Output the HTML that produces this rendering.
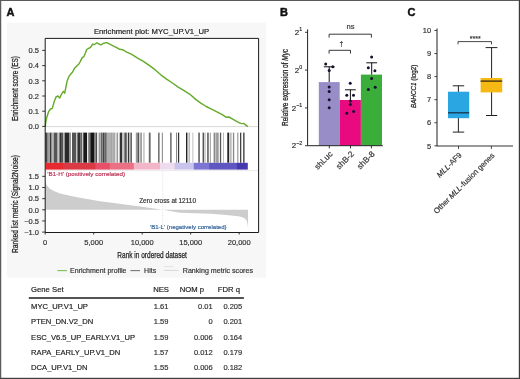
<!DOCTYPE html>
<html><head><meta charset="utf-8"><style>
html,body{margin:0;padding:0;background:#fff;}
body{width:520px;height:379px;overflow:hidden;position:relative;}
svg{display:block;font-family:"Liberation Sans", sans-serif;will-change:transform;}
.hv{stroke:#222;stroke-width:0.25px;}
text{stroke-linejoin:round;}
</style></head><body>
<svg width="520" height="379" viewBox="0 0 520 379">
<defs>
<linearGradient id="cb" x1="45.5" x2="248" y1="0" y2="0" gradientUnits="userSpaceOnUse">

<stop offset="0.0000" stop-color="#e62a30"/>
<stop offset="0.0849" stop-color="#e62a30"/>
<stop offset="0.0899" stop-color="#da3a44"/>
<stop offset="0.2444" stop-color="#da3a44"/>
<stop offset="0.2494" stop-color="#e8506a"/>
<stop offset="0.3151" stop-color="#e8506a"/>
<stop offset="0.3200" stop-color="#ec7085"/>
<stop offset="0.4336" stop-color="#ec7085"/>
<stop offset="0.4385" stop-color="#f3b6c9"/>
<stop offset="0.5630" stop-color="#f3b6c9"/>
<stop offset="0.5679" stop-color="#eedcee"/>
<stop offset="0.6351" stop-color="#eedcee"/>
<stop offset="0.6400" stop-color="#c9c4ec"/>
<stop offset="0.7299" stop-color="#c9c4ec"/>
<stop offset="0.7348" stop-color="#7d75d3"/>
<stop offset="0.8059" stop-color="#7d75d3"/>
<stop offset="0.8109" stop-color="#5f56c2"/>
<stop offset="0.9427" stop-color="#5f56c2"/>
<stop offset="0.9477" stop-color="#4639b0"/>
<stop offset="1.0000" stop-color="#4639b0"/>
</linearGradient></defs>
<rect x="0" y="0" width="520" height="379" fill="#fff"/>
<rect x="7" y="22.6" width="259" height="255" fill="#f7f7f7"/>
<text x="6.4" y="16.4" font-size="11" font-weight="bold" fill="#111" stroke="#111" stroke-width="0.45">A</text>
<text x="280" y="16.4" font-size="11" font-weight="bold" fill="#111" stroke="#111" stroke-width="0.45">B</text>
<text x="407.6" y="16.4" font-size="11" font-weight="bold" fill="#111" stroke="#111" stroke-width="0.45">C</text>
<text x="151.5" y="33.8" font-size="7.7" text-anchor="middle" fill="#222" stroke="#222" stroke-width="0.18">Enrichment plot: MYC_UP.V1_UP</text>
<rect x="45.2" y="38.4" width="213.40000000000003" height="194.1" fill="#fff"/>
<line x1="45.2" x2="258.6" y1="126.6" y2="126.6" stroke="#d8d8d8" stroke-width="1"/>
<path d="M45.5,126.4 L45.5,123.7 L46.8,117.3 L48.6,111.7 L50.5,109.0 L52.3,108.4 L54.2,101.6 L56.0,97.0 L57.9,96.0 L59.7,97.9 L61.5,94.2 L63.4,91.4 L64.7,93.2 L65.8,87.7 L67.1,81.2 L68.9,76.6 L70.8,73.9 L72.6,72.0 L74.5,68.3 L76.3,66.5 L79.1,63.7 L80.0,62.0 L81.9,58.1 L83.8,56.7 L85.3,53.3 L86.7,49.5 L88.2,48.5 L89.6,48.0 L91.1,46.6 L92.5,44.2 L94.4,44.5 L96.8,42.9 L99.2,44.2 L101.2,44.8 L103.1,43.5 L105.0,42.9 L106.9,42.7 L108.8,43.7 L111.7,45.1 L114.6,46.6 L117.5,48.0 L119.4,49.3 L121.3,49.5 L123.3,50.0 L126.2,51.9 L129.0,53.1 L131.8,54.4 L137.6,58.1 L143.4,61.3 L149.2,65.3 L155.0,69.7 L160.8,74.8 L166.6,79.1 L172.4,83.0 L178.2,87.1 L184.1,90.7 L189.9,94.3 L195.4,99.1 L200.8,103.2 L206.2,106.5 L211.5,109.2 L216.9,111.9 L222.3,114.6 L226.3,117.3 L229.0,117.0 L233.1,119.3 L237.1,121.6 L240.5,123.4 L242.5,123.6 L243.8,123.4 L245.2,124.7 L247.9,126.7" fill="none" stroke="#66ab2c" stroke-width="1.45" stroke-linejoin="round"/>
<rect x="45.30" y="132.6" width="1.90" height="30.2" fill="rgb(68,68,68)"/>
<rect x="47.20" y="132.6" width="1.60" height="30.2" fill="rgb(119,119,119)"/>
<rect x="48.80" y="132.6" width="0.80" height="30.2" fill="rgb(204,204,204)"/>
<rect x="49.60" y="132.6" width="1.90" height="30.2" fill="rgb(58,58,58)"/>
<rect x="51.50" y="132.6" width="1.10" height="30.2" fill="rgb(136,136,136)"/>
<rect x="53.50" y="132.6" width="4.00" height="30.2" fill="rgb(85,85,85)"/>
<rect x="58.50" y="132.6" width="1.10" height="30.2" fill="rgb(136,136,136)"/>
<rect x="59.60" y="132.6" width="2.20" height="30.2" fill="rgb(51,51,51)"/>
<rect x="61.80" y="132.6" width="1.60" height="30.2" fill="rgb(85,85,85)"/>
<rect x="64.50" y="132.6" width="4.80" height="30.2" fill="rgb(42,42,42)"/>
<rect x="69.30" y="132.6" width="1.60" height="30.2" fill="rgb(136,136,136)"/>
<rect x="72.00" y="132.6" width="4.30" height="30.2" fill="rgb(85,85,85)"/>
<rect x="76.30" y="132.6" width="1.10" height="30.2" fill="rgb(200,200,200)"/>
<rect x="77.40" y="132.6" width="3.20" height="30.2" fill="rgb(51,51,51)"/>
<rect x="80.60" y="132.6" width="1.60" height="30.2" fill="rgb(102,102,102)"/>
<rect x="82.20" y="132.6" width="1.10" height="30.2" fill="rgb(200,200,200)"/>
<rect x="83.30" y="132.6" width="3.80" height="30.2" fill="rgb(26,26,26)"/>
<rect x="88.20" y="132.6" width="2.10" height="30.2" fill="rgb(119,119,119)"/>
<rect x="90.30" y="132.6" width="4.30" height="30.2" fill="rgb(21,21,21)"/>
<rect x="94.60" y="132.6" width="1.60" height="30.2" fill="rgb(136,136,136)"/>
<rect x="96.20" y="132.6" width="0.90" height="30.2" fill="rgb(40,40,40)"/>
<rect x="98.70" y="132.6" width="1.10" height="30.2" fill="rgb(119,119,119)"/>
<rect x="99.80" y="132.6" width="1.00" height="30.2" fill="rgb(187,187,187)"/>
<rect x="100.80" y="132.6" width="1.10" height="30.2" fill="rgb(85,85,85)"/>
<rect x="101.90" y="132.6" width="1.10" height="30.2" fill="rgb(136,136,136)"/>
<rect x="103.00" y="132.6" width="1.60" height="30.2" fill="rgb(68,68,68)"/>
<rect x="104.60" y="132.6" width="2.20" height="30.2" fill="rgb(102,102,102)"/>
<rect x="106.80" y="132.6" width="4.30" height="30.2" fill="rgb(176,176,176)"/>
<rect x="111.10" y="132.6" width="1.10" height="30.2" fill="rgb(153,153,153)"/>
<rect x="112.20" y="132.6" width="3.20" height="30.2" fill="rgb(170,170,170)"/>
<rect x="116.50" y="132.6" width="1.60" height="30.2" fill="rgb(153,153,153)"/>
<rect x="119.70" y="132.6" width="2.70" height="30.2" fill="rgb(51,51,51)"/>
<rect x="122.40" y="132.6" width="1.60" height="30.2" fill="rgb(204,204,204)"/>
<rect x="124.00" y="132.6" width="1.10" height="30.2" fill="rgb(136,136,136)"/>
<rect x="125.10" y="132.6" width="1.60" height="30.2" fill="rgb(68,68,68)"/>
<rect x="127.80" y="132.6" width="1.60" height="30.2" fill="rgb(51,51,51)"/>
<rect x="129.40" y="132.6" width="1.10" height="30.2" fill="rgb(200,200,200)"/>
<rect x="130.50" y="132.6" width="1.30" height="30.2" fill="rgb(68,68,68)"/>
<rect x="135.80" y="132.6" width="1.70" height="30.2" fill="rgb(153,153,153)"/>
<rect x="137.50" y="132.6" width="1.60" height="30.2" fill="rgb(85,85,85)"/>
<rect x="139.10" y="132.6" width="1.30" height="30.2" fill="rgb(204,204,204)"/>
<rect x="140.40" y="132.6" width="1.40" height="30.2" fill="rgb(136,136,136)"/>
<rect x="143.40" y="132.6" width="1.10" height="30.2" fill="rgb(170,170,170)"/>
<rect x="148.80" y="132.6" width="1.80" height="30.2" fill="rgb(102,102,102)"/>
<rect x="158.20" y="132.6" width="1.30" height="30.2" fill="rgb(85,85,85)"/>
<rect x="161.80" y="132.6" width="1.20" height="30.2" fill="rgb(153,153,153)"/>
<rect x="170.30" y="132.6" width="1.20" height="30.2" fill="rgb(68,68,68)"/>
<rect x="176.00" y="132.6" width="1.10" height="30.2" fill="rgb(136,136,136)"/>
<rect x="178.00" y="132.6" width="1.20" height="30.2" fill="rgb(51,51,51)"/>
<rect x="186.00" y="132.6" width="1.40" height="30.2" fill="rgb(34,34,34)"/>
<rect x="188.60" y="132.6" width="1.10" height="30.2" fill="rgb(153,153,153)"/>
<rect x="192.40" y="132.6" width="0.90" height="30.2" fill="rgb(187,187,187)"/>
<rect x="198.30" y="132.6" width="1.50" height="30.2" fill="rgb(85,85,85)"/>
<rect x="202.60" y="132.6" width="1.30" height="30.2" fill="rgb(68,68,68)"/>
<rect x="204.60" y="132.6" width="0.80" height="30.2" fill="rgb(140,140,140)"/>
<rect x="207.20" y="132.6" width="1.50" height="30.2" fill="rgb(85,85,85)"/>
<rect x="209.80" y="132.6" width="1.00" height="30.2" fill="rgb(153,153,153)"/>
<rect x="213.60" y="132.6" width="1.90" height="30.2" fill="rgb(136,136,136)"/>
<rect x="216.10" y="132.6" width="2.60" height="30.2" fill="rgb(153,153,153)"/>
<rect x="219.90" y="132.6" width="1.30" height="30.2" fill="rgb(85,85,85)"/>
<rect x="223.00" y="132.6" width="1.00" height="30.2" fill="rgb(187,187,187)"/>
<rect x="227.30" y="132.6" width="1.90" height="30.2" fill="rgb(34,34,34)"/>
<rect x="230.40" y="132.6" width="1.00" height="30.2" fill="rgb(140,140,140)"/>
<rect x="232.90" y="132.6" width="1.30" height="30.2" fill="rgb(136,136,136)"/>
<rect x="237.20" y="132.6" width="1.20" height="30.2" fill="rgb(153,153,153)"/>
<rect x="240.00" y="132.6" width="1.30" height="30.2" fill="rgb(68,68,68)"/>
<rect x="243.20" y="132.6" width="1.30" height="30.2" fill="rgb(51,51,51)"/>
<rect x="45.5" y="162.8" width="202.3" height="6.8" fill="url(#cb)"/>
<line x1="45.2" x2="258.6" y1="170.6" y2="170.6" stroke="#e4e4e4" stroke-width="0.8"/>
<path d="M45.3,209.8 L45.3,180.8 L45.9,183.0 L47.0,185.5 L48.5,187.3 L50.0,188.7 L52.5,190.3 L55.0,191.6 L60.0,193.4 L70.0,195.8 L80.0,197.8 L90.0,199.6 L100.0,201.2 L110.0,202.5 L125.0,204.4 L140.0,206.5 L162.7,209.8 L180.0,212.7 L195.4,213.2 L210.8,213.8 L226.2,214.9 L238.5,216.2 L243.1,217.6 L245.5,219.0 L247.0,221.5 L247.7,225.0 L248.1,229.0 L248,209.8 Z" fill="#cdcdcd"/>
<line x1="162.7" x2="162.7" y1="171" y2="232" stroke="#d4d4d4" stroke-width="0.7" stroke-dasharray="1,1.2"/>
<text x="47.3" y="176.1" font-size="6.25" fill="#bd3456" stroke="#bd3456" stroke-width="0.18">'B1-H' (positively correlated)</text>
<text x="139.2" y="203.4" font-size="6.45" fill="#333" stroke="#333" stroke-width="0.18">Zero cross at 12110</text>
<text x="226.6" y="229.3" font-size="6.05" text-anchor="end" fill="#33659a" stroke="#33659a" stroke-width="0.18">'B1-L' (negatively correlated)</text>
<path d="M45.2,38.4 H258.6 V232.5 H45.2 Z" fill="none" stroke="#1a1a1a" stroke-width="1"/>
<line x1="42.2" x2="45.2" y1="126.40" y2="126.40" stroke="#222" stroke-width="0.9"/>
<text x="39.0" y="129.10" font-size="7.5" text-anchor="end" fill="#333" stroke="#333" stroke-width="0.18">0.0</text>
<line x1="42.2" x2="45.2" y1="111.20" y2="111.20" stroke="#222" stroke-width="0.9"/>
<text x="39.0" y="113.90" font-size="7.5" text-anchor="end" fill="#333" stroke="#333" stroke-width="0.18">0.1</text>
<line x1="42.2" x2="45.2" y1="96.00" y2="96.00" stroke="#222" stroke-width="0.9"/>
<text x="39.0" y="98.70" font-size="7.5" text-anchor="end" fill="#333" stroke="#333" stroke-width="0.18">0.2</text>
<line x1="42.2" x2="45.2" y1="80.80" y2="80.80" stroke="#222" stroke-width="0.9"/>
<text x="39.0" y="83.50" font-size="7.5" text-anchor="end" fill="#333" stroke="#333" stroke-width="0.18">0.3</text>
<line x1="42.2" x2="45.2" y1="65.60" y2="65.60" stroke="#222" stroke-width="0.9"/>
<text x="39.0" y="68.30" font-size="7.5" text-anchor="end" fill="#333" stroke="#333" stroke-width="0.18">0.4</text>
<line x1="42.2" x2="45.2" y1="50.40" y2="50.40" stroke="#222" stroke-width="0.9"/>
<text x="39.0" y="53.10" font-size="7.5" text-anchor="end" fill="#333" stroke="#333" stroke-width="0.18">0.5</text>
<line x1="42.2" x2="45.2" y1="176.35" y2="176.35" stroke="#222" stroke-width="0.9"/>
<text x="39.0" y="179.05" font-size="7.5" text-anchor="end" fill="#333" stroke="#333" stroke-width="0.18">1.5</text>
<line x1="42.2" x2="45.2" y1="187.50" y2="187.50" stroke="#222" stroke-width="0.9"/>
<text x="39.0" y="190.20" font-size="7.5" text-anchor="end" fill="#333" stroke="#333" stroke-width="0.18">1.0</text>
<line x1="42.2" x2="45.2" y1="198.65" y2="198.65" stroke="#222" stroke-width="0.9"/>
<text x="39.0" y="201.35" font-size="7.5" text-anchor="end" fill="#333" stroke="#333" stroke-width="0.18">0.5</text>
<line x1="42.2" x2="45.2" y1="209.80" y2="209.80" stroke="#222" stroke-width="0.9"/>
<text x="39.0" y="212.50" font-size="7.5" text-anchor="end" fill="#333" stroke="#333" stroke-width="0.18">0.0</text>
<line x1="42.2" x2="45.2" y1="220.95" y2="220.95" stroke="#222" stroke-width="0.9"/>
<text x="39.0" y="223.65" font-size="7.5" text-anchor="end" fill="#333" stroke="#333" stroke-width="0.18">−0.5</text>
<line x1="42.2" x2="45.2" y1="232.10" y2="232.10" stroke="#222" stroke-width="0.9"/>
<text x="39.0" y="234.80" font-size="7.5" text-anchor="end" fill="#333" stroke="#333" stroke-width="0.18">−1.0</text>
<line x1="45.20" x2="45.20" y1="232.5" y2="234.5" stroke="#222" stroke-width="0.9"/>
<text x="45.20" y="245.2" font-size="7.5" text-anchor="middle" fill="#333" stroke="#333" stroke-width="0.18">0</text>
<line x1="93.70" x2="93.70" y1="232.5" y2="234.5" stroke="#222" stroke-width="0.9"/>
<text x="93.70" y="245.2" font-size="7.5" text-anchor="middle" fill="#333" stroke="#333" stroke-width="0.18">5,000</text>
<line x1="142.20" x2="142.20" y1="232.5" y2="234.5" stroke="#222" stroke-width="0.9"/>
<text x="142.20" y="245.2" font-size="7.5" text-anchor="middle" fill="#333" stroke="#333" stroke-width="0.18">10,000</text>
<line x1="190.70" x2="190.70" y1="232.5" y2="234.5" stroke="#222" stroke-width="0.9"/>
<text x="190.70" y="245.2" font-size="7.5" text-anchor="middle" fill="#333" stroke="#333" stroke-width="0.18">15,000</text>
<line x1="239.20" x2="239.20" y1="232.5" y2="234.5" stroke="#222" stroke-width="0.9"/>
<text x="239.20" y="245.2" font-size="7.5" text-anchor="middle" fill="#333" stroke="#333" stroke-width="0.18">20,000</text>
<text x="152.1" y="257.7" font-size="8.9" text-anchor="middle" fill="#222" class="hv" textLength="69.6" lengthAdjust="spacingAndGlyphs">Rank in ordered dataset</text>
<text transform="translate(17.8,88.5) rotate(-90)" x="0" y="0" font-size="8.9" text-anchor="middle" fill="#222" class="hv" textLength="65" lengthAdjust="spacingAndGlyphs">Enrichment score (ES)</text>
<text transform="translate(17.8,204) rotate(-90)" x="0" y="0" font-size="8.9" text-anchor="middle" fill="#222" class="hv" textLength="98" lengthAdjust="spacingAndGlyphs">Ranked list metric (Signal2Noise)</text>
<line x1="57.4" x2="66.9" y1="270.6" y2="270.6" stroke="#7cc04a" stroke-width="1.1"/>
<text x="70.1" y="273.2" font-size="7.0" fill="#333" stroke="#333" stroke-width="0.18">Enrichment profile</text>
<line x1="130.4" x2="140" y1="270.6" y2="270.6" stroke="#777" stroke-width="1.1"/>
<text x="144.1" y="273.2" font-size="7.0" fill="#333" stroke="#333" stroke-width="0.18">Hits</text>
<line x1="163.8" x2="173.3" y1="266.6" y2="266.6" stroke="#ddd" stroke-width="0.8"/>
<line x1="163.8" x2="178.6" y1="270.4" y2="270.4" stroke="#d0d0d0" stroke-width="0.8"/>
<text x="182.8" y="273.2" font-size="7.1" fill="#333" stroke="#333" stroke-width="0.18">Ranking metric scores</text>
<text x="31.1" y="292.1" font-size="7.7" fill="#222" stroke="#222" stroke-width="0.18">Gene Set</text>
<text x="153.2" y="292.1" font-size="7.7" fill="#222" stroke="#222" stroke-width="0.18">NES</text>
<text x="179.7" y="292.1" font-size="7.7" fill="#222" stroke="#222" stroke-width="0.18">NOM p</text>
<text x="217.8" y="292.1" font-size="7.7" fill="#222" stroke="#222" stroke-width="0.18">FDR q</text>
<line x1="28.8" x2="243.9" y1="298" y2="298" stroke="#1a1a1a" stroke-width="1.3"/>
<text x="31.1" y="308.80" font-size="7.6" fill="#222" stroke="#222" stroke-width="0.18">MYC_UP.V1_UP</text>
<text x="153.8" y="308.80" font-size="7.5" fill="#333" stroke="#333" stroke-width="0.18">1.61</text>
<text x="212.7" y="308.80" font-size="7.5" text-anchor="end" fill="#333" stroke="#333" stroke-width="0.18">0.01</text>
<text x="242.2" y="308.80" font-size="7.5" text-anchor="end" fill="#333" stroke="#333" stroke-width="0.18">0.205</text>
<text x="31.1" y="324.17" font-size="7.6" fill="#222" stroke="#222" stroke-width="0.18">PTEN_DN.V2_DN</text>
<text x="153.8" y="324.17" font-size="7.5" fill="#333" stroke="#333" stroke-width="0.18">1.59</text>
<text x="212.7" y="324.17" font-size="7.5" text-anchor="end" fill="#333" stroke="#333" stroke-width="0.18">0</text>
<text x="242.2" y="324.17" font-size="7.5" text-anchor="end" fill="#333" stroke="#333" stroke-width="0.18">0.201</text>
<text x="31.1" y="339.54" font-size="7.6" fill="#222" stroke="#222" stroke-width="0.18">ESC_V6.5_UP_EARLY.V1_UP</text>
<text x="153.8" y="339.54" font-size="7.5" fill="#333" stroke="#333" stroke-width="0.18">1.59</text>
<text x="212.7" y="339.54" font-size="7.5" text-anchor="end" fill="#333" stroke="#333" stroke-width="0.18">0.006</text>
<text x="242.2" y="339.54" font-size="7.5" text-anchor="end" fill="#333" stroke="#333" stroke-width="0.18">0.164</text>
<text x="31.1" y="354.91" font-size="7.6" fill="#222" stroke="#222" stroke-width="0.18">RAPA_EARLY_UP.V1_DN</text>
<text x="153.8" y="354.91" font-size="7.5" fill="#333" stroke="#333" stroke-width="0.18">1.57</text>
<text x="212.7" y="354.91" font-size="7.5" text-anchor="end" fill="#333" stroke="#333" stroke-width="0.18">0.012</text>
<text x="242.2" y="354.91" font-size="7.5" text-anchor="end" fill="#333" stroke="#333" stroke-width="0.18">0.179</text>
<text x="31.1" y="370.28" font-size="7.6" fill="#222" stroke="#222" stroke-width="0.18">DCA_UP.V1_DN</text>
<text x="153.8" y="370.28" font-size="7.5" fill="#333" stroke="#333" stroke-width="0.18">1.55</text>
<text x="212.7" y="370.28" font-size="7.5" text-anchor="end" fill="#333" stroke="#333" stroke-width="0.18">0.006</text>
<text x="242.2" y="370.28" font-size="7.5" text-anchor="end" fill="#333" stroke="#333" stroke-width="0.18">0.182</text>
<rect x="318.8" y="82.1" width="20.9" height="63.6" fill="#998dc8"/>
<rect x="339.7" y="100.0" width="21.2" height="45.7" fill="#ea0a80"/>
<rect x="360.9" y="74.6" width="21.1" height="71.1" fill="#3aad3a"/>
<line x1="329.2" x2="329.2" y1="66.8" y2="82.1" stroke="#111" stroke-width="1"/>
<line x1="323.8" x2="334.59999999999997" y1="66.8" y2="66.8" stroke="#111" stroke-width="1"/>
<line x1="350.4" x2="350.4" y1="89.8" y2="100.0" stroke="#111" stroke-width="1"/>
<line x1="345.0" x2="355.79999999999995" y1="89.8" y2="89.8" stroke="#111" stroke-width="1"/>
<line x1="371.7" x2="371.7" y1="62.8" y2="74.6" stroke="#111" stroke-width="1"/>
<line x1="366.3" x2="377.09999999999997" y1="62.8" y2="62.8" stroke="#111" stroke-width="1"/>
<circle cx="325.7" cy="64" r="1.5" fill="#15112e"/>
<circle cx="332.8" cy="66.8" r="1.5" fill="#15112e"/>
<circle cx="329.2" cy="70.5" r="1.5" fill="#15112e"/>
<circle cx="329.2" cy="86.9" r="1.5" fill="#15112e"/>
<circle cx="329.2" cy="91.4" r="1.5" fill="#15112e"/>
<circle cx="329.2" cy="99.7" r="1.5" fill="#15112e"/>
<circle cx="329.2" cy="107.8" r="1.5" fill="#15112e"/>
<circle cx="350.2" cy="83.3" r="1.5" fill="#15112e"/>
<circle cx="346.8" cy="95.3" r="1.5" fill="#15112e"/>
<circle cx="353.5" cy="95.3" r="1.5" fill="#15112e"/>
<circle cx="350.3" cy="101.1" r="1.5" fill="#15112e"/>
<circle cx="350.3" cy="104.4" r="1.5" fill="#15112e"/>
<circle cx="346.8" cy="113.2" r="1.5" fill="#15112e"/>
<circle cx="353.7" cy="111.4" r="1.5" fill="#15112e"/>
<circle cx="371.6" cy="57" r="1.5" fill="#15112e"/>
<circle cx="368.3" cy="67.8" r="1.5" fill="#15112e"/>
<circle cx="374.9" cy="70.7" r="1.5" fill="#15112e"/>
<circle cx="371.6" cy="78.6" r="1.5" fill="#15112e"/>
<circle cx="375.2" cy="87.3" r="1.5" fill="#15112e"/>
<circle cx="368.3" cy="89.6" r="1.5" fill="#15112e"/>
<path d="M307.6,29.4 V145.7 H382.8" fill="none" stroke="#222" stroke-width="1"/>
<line x1="305" x2="307.6" y1="32.30" y2="32.30" stroke="#222" stroke-width="0.9"/>
<text x="302.2" y="34.90" font-size="7.9" text-anchor="end" fill="#2a2a2a" stroke="#2a2a2a" stroke-width="0.18">2<tspan font-size="5.3" dy="-3.5">1</tspan></text>
<line x1="305" x2="307.6" y1="70.10" y2="70.10" stroke="#222" stroke-width="0.9"/>
<text x="302.2" y="72.70" font-size="7.9" text-anchor="end" fill="#2a2a2a" stroke="#2a2a2a" stroke-width="0.18">2<tspan font-size="5.3" dy="-3.5">0</tspan></text>
<line x1="305" x2="307.6" y1="107.90" y2="107.90" stroke="#222" stroke-width="0.9"/>
<text x="302.2" y="110.50" font-size="7.9" text-anchor="end" fill="#2a2a2a" stroke="#2a2a2a" stroke-width="0.18">2<tspan font-size="5.3" dy="-3.5">−1</tspan></text>
<line x1="305" x2="307.6" y1="145.70" y2="145.70" stroke="#222" stroke-width="0.9"/>
<text x="302.2" y="148.30" font-size="7.9" text-anchor="end" fill="#2a2a2a" stroke="#2a2a2a" stroke-width="0.18">2<tspan font-size="5.3" dy="-3.5">−2</tspan></text>
<line x1="329.3" x2="329.3" y1="145.7" y2="148.4" stroke="#222" stroke-width="0.9"/>
<line x1="350.5" x2="350.5" y1="145.7" y2="148.4" stroke="#222" stroke-width="0.9"/>
<line x1="371.4" x2="371.4" y1="145.7" y2="148.4" stroke="#222" stroke-width="0.9"/>
<text transform="translate(333.2,154.6) rotate(-45)" x="0" y="0" font-size="8.2" text-anchor="end" fill="#333" stroke="#333" stroke-width="0.18">shLuc</text>
<text transform="translate(354.4,154.6) rotate(-45)" x="0" y="0" font-size="8.2" text-anchor="end" fill="#333" stroke="#333" stroke-width="0.18">shB-2</text>
<text transform="translate(375.3,154.6) rotate(-45)" x="0" y="0" font-size="8.2" text-anchor="end" fill="#333" stroke="#333" stroke-width="0.18">shB-8</text>
<path d="M329.1,37.6 V34.2 H371.4 V37.6" fill="none" stroke="#222" stroke-width="0.9"/>
<path d="M329.1,53.6 V50.3 H350.5 V53.6" fill="none" stroke="#222" stroke-width="0.9"/>
<text x="350.6" y="29.4" font-size="7.6" text-anchor="middle" fill="#333" stroke="#333" stroke-width="0.18">ns</text>
<text x="341.4" y="46.4" font-size="7" text-anchor="middle" fill="#333" stroke="#333" stroke-width="0.18">†</text>
<text transform="translate(287.9,87.4) rotate(-90)" x="0" y="0" font-size="8.2" text-anchor="middle" fill="#222" class="hv" textLength="77" lengthAdjust="spacingAndGlyphs">Relative expression of <tspan font-style="italic">Myc</tspan></text>
<line x1="458.4" x2="458.4" y1="85.8" y2="132.1" stroke="#222" stroke-width="1"/>
<line x1="452.8" x2="464.2" y1="85.8" y2="85.8" stroke="#222" stroke-width="1"/>
<line x1="452.8" x2="464.2" y1="132.1" y2="132.1" stroke="#222" stroke-width="1"/>
<rect x="448" y="91.7" width="21.2" height="26.5" fill="#2aa6e2"/>
<line x1="448" x2="469.2" y1="112.8" y2="112.8" stroke="#173650" stroke-width="1.3"/>
<line x1="491.6" x2="491.6" y1="47.6" y2="115.5" stroke="#222" stroke-width="1"/>
<line x1="485.6" x2="497.4" y1="47.6" y2="47.6" stroke="#222" stroke-width="1"/>
<line x1="486" x2="497.2" y1="115.5" y2="115.5" stroke="#222" stroke-width="1"/>
<rect x="480.6" y="78.0" width="21.6" height="14.4" fill="#f6b813"/>
<line x1="480.6" x2="502.2" y1="81.1" y2="81.1" stroke="#3a2a10" stroke-width="1.3"/>
<path d="M437,28.5 V146 H513" fill="none" stroke="#333" stroke-width="1.1"/>
<line x1="434.4" x2="437" y1="145.80" y2="145.80" stroke="#333" stroke-width="0.9"/>
<text x="431.2" y="148.50" font-size="7.5" text-anchor="end" fill="#333" stroke="#333" stroke-width="0.18">5</text>
<line x1="434.4" x2="437" y1="122.74" y2="122.74" stroke="#333" stroke-width="0.9"/>
<text x="431.2" y="125.44" font-size="7.5" text-anchor="end" fill="#333" stroke="#333" stroke-width="0.18">6</text>
<line x1="434.4" x2="437" y1="99.68" y2="99.68" stroke="#333" stroke-width="0.9"/>
<text x="431.2" y="102.38" font-size="7.5" text-anchor="end" fill="#333" stroke="#333" stroke-width="0.18">7</text>
<line x1="434.4" x2="437" y1="76.62" y2="76.62" stroke="#333" stroke-width="0.9"/>
<text x="431.2" y="79.32" font-size="7.5" text-anchor="end" fill="#333" stroke="#333" stroke-width="0.18">8</text>
<line x1="434.4" x2="437" y1="53.56" y2="53.56" stroke="#333" stroke-width="0.9"/>
<text x="431.2" y="56.26" font-size="7.5" text-anchor="end" fill="#333" stroke="#333" stroke-width="0.18">9</text>
<line x1="434.4" x2="437" y1="30.50" y2="30.50" stroke="#333" stroke-width="0.9"/>
<text x="431.2" y="33.20" font-size="7.5" text-anchor="end" fill="#333" stroke="#333" stroke-width="0.18">10</text>
<line x1="458.5" x2="458.5" y1="146" y2="149" stroke="#333" stroke-width="0.9"/>
<line x1="491.4" x2="491.4" y1="146" y2="149" stroke="#333" stroke-width="0.9"/>
<text transform="translate(462.2,155.6) rotate(-45)" x="0" y="0" font-size="7.7" text-anchor="end" fill="#333" stroke="#333" stroke-width="0.18"><tspan font-style="italic">MLL</tspan>-AF9</text>
<text transform="translate(495,156) rotate(-45)" x="0" y="0" font-size="7.7" text-anchor="end" fill="#333" stroke="#333" stroke-width="0.18">Other <tspan font-style="italic">MLL</tspan>-fusion genes</text>
<path d="M458,44.4 V41.6 H491.5 V44.4" fill="none" stroke="#333" stroke-width="0.9"/>
<text x="475.2" y="40.6" font-size="7" text-anchor="middle" fill="#333" stroke="#333" stroke-width="0.18">****</text>
<text transform="translate(415.8,86.3) rotate(-90)" x="0" y="0" font-size="7.8" text-anchor="middle" fill="#222" class="hv" textLength="43.5" lengthAdjust="spacingAndGlyphs"><tspan font-style="italic">BAHCC1</tspan> (log2)</text>
<rect x="0" y="0" width="520" height="1" fill="#5a5a5a"/>
<rect x="0" y="0" width="1" height="379" fill="#5c5c5c"/>
<rect x="1" y="1" width="0.4" height="377" fill="#9a9a9a"/>
<rect x="519" y="0" width="1" height="379" fill="#3a3a3a"/>
<rect x="518.6" y="1" width="0.4" height="377" fill="#9a9a9a"/>
<rect x="0" y="378" width="520" height="1" fill="#3e3e3e"/>
<rect x="1" y="377.6" width="518" height="0.4" fill="#9a9a9a"/>
</svg></body></html>
